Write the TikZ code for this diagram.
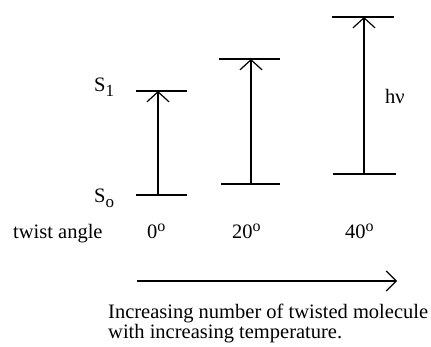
\documentclass[tikz,border=0pt]{standalone}
\usepackage{fontspec}
\setmainfont{Liberation Serif}
\usetikzlibrary{arrows.meta}
\newcommand{\subtxt}[1]{\raisebox{-5pt}{\fontsize{17}{17}\selectfont #1}}
\newcommand{\suptxt}[1]{\raisebox{7pt}{\fontsize{16}{16}\selectfont #1}}
\begin{document}
\begin{tikzpicture}[x=1pt,y=-1pt,
  level/.style={line width=1.2pt},
  trans/.style={line width=1.2pt,-{Straight Barb[length=10pt,width=22pt,line width=1.2pt]}},
  lab/.style={anchor=base west,inner sep=0pt,font=\fontsize{20.5}{17}\selectfont}]
\useasboundingbox (0,0) rectangle (431,347);
% levels
\coordinate (a0l) at (136,195); \coordinate (a0r) at (187,195);
\coordinate (a1l) at (136,91);  \coordinate (a1r) at (187,91);
\coordinate (b0l) at (221,184); \coordinate (b0r) at (280,184);
\coordinate (b1l) at (219,59);  \coordinate (b1r) at (280,59);
\coordinate (c0l) at (333,174); \coordinate (c0r) at (396,174);
\coordinate (c1l) at (332,17);  \coordinate (c1r) at (394,17);
\draw[level] (a0l) -- (a0r);
\draw[level] (a1l) -- (a1r);
\draw[level] (b0l) -- (b0r);
\draw[level] (b1l) -- (b1r);
\draw[level] (c0l) -- (c0r);
\draw[level] (c1l) -- (c1r);
\coordinate (a0) at (158,195); \coordinate (a1) at (158,91);
\coordinate (b0) at (251,184); \coordinate (b1) at (251,59);
\coordinate (c0) at (364,174); \coordinate (c1) at (364,17);
\draw[trans] (a0) -- (a1);
\draw[trans] (b0) -- (b1);
\draw[trans] (c0) -- (c1);
% labels
\node[lab] (s1) at (94,92) {S\subtxt{1}};
\node[lab] (s0) at (94,203) {S\subtxt{o}};
\node[lab] (hv) at (385,104) {hν};
\node[lab] (tw) at (13,239) {twist angle};
\node[lab] (d0) at (147,239) {0\suptxt{o}};
\node[lab] (d20) at (232,239) {20\suptxt{o}};
\node[lab] (d40) at (345,239) {40\suptxt{o}};
% bottom arrow
\coordinate (hs) at (137,281); \coordinate (he) at (397,281);
\draw[line width=1.2pt,-{Straight Barb[length=10pt,width=20pt,line width=1.2pt]}] (hs) -- (he);
\node[lab] (txt1) at (108,319) {Increasing number of twisted molecule};
\node[lab] (txt2) at (108,338) {with increasing temperature.};
\end{tikzpicture}
\end{document}
